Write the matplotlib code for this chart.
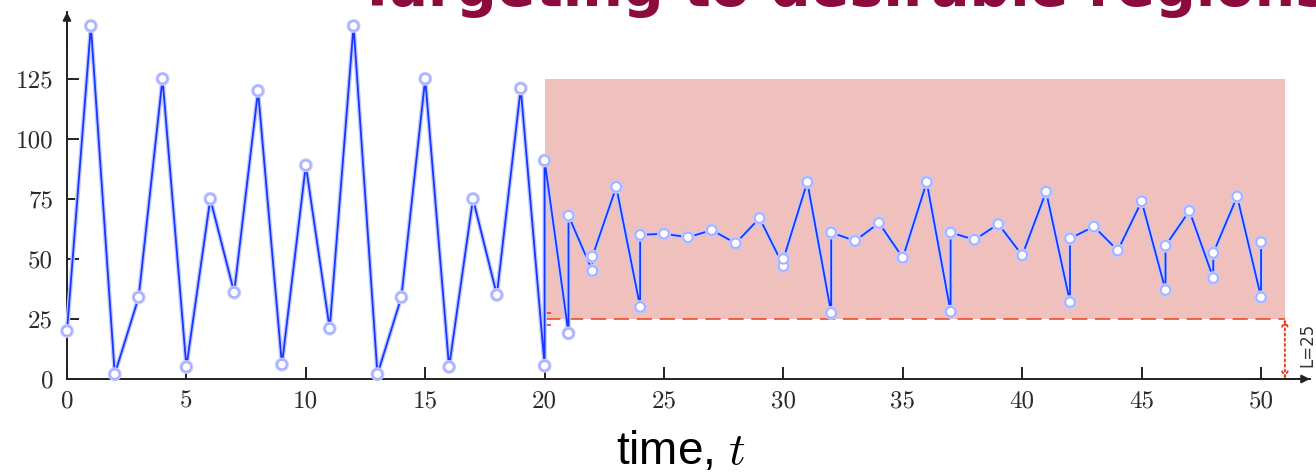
import matplotlib
matplotlib.use("Agg")
import matplotlib.pyplot as plt
import matplotlib.patheffects as pe

# ---------------------------------------------------------------------------
# Data
# ---------------------------------------------------------------------------
# repeated times are steps where a value was pulled back into the target band
times = [0, 1, 2, 3, 4, 5, 6, 7, 8, 9, 10, 11, 12, 13, 14, 15, 16, 17, 18, 19,
         20, 20, 21, 21, 22, 22, 23, 24, 24, 25, 26, 27, 28, 29, 30, 30, 31,
         32, 32, 33, 34, 35, 36, 37, 37, 38, 39, 40, 41, 42, 42, 43, 44, 45,
         46, 46, 47, 48, 48, 49, 50, 50]
values = [20, 147, 2, 34, 125, 5, 75, 36, 120, 6, 89, 21, 147, 2, 34, 125, 5,
          75, 35, 121,
          5.5, 91, 19, 68, 45, 51, 80, 30, 60, 60.5, 59, 62, 56.5, 67, 47, 50,
          82, 27.5, 61, 57.5, 65, 50.5, 82, 28, 61, 58, 64.5, 51.5, 78, 32,
          58.5, 63.5, 53.5, 74, 37, 55.5, 70, 42, 52.5, 76, 34, 57]

region_start = 20
region_end = 51
lower_bound = 25
upper_bound = 125

xticks = [0, 5, 10, 15, 20, 25, 30, 35, 40, 45, 50]
yticks = [0, 25, 50, 75, 100, 125]

title = "Targeting to desirable regions"
xlabel = "time, $t$"

# ---------------------------------------------------------------------------
# Figure
# ---------------------------------------------------------------------------
plt.rcParams["mathtext.fontset"] = "cm"
plt.rcParams["axes.formatter.use_mathtext"] = True

W, H = 1316, 475
fig = plt.figure(figsize=(W / 100, H / 100), dpi=100)
ax = fig.add_axes([67 / W, 1 - 379 / H, (1310 - 67) / W, (379 - 12) / H])
ax.set_xlim(0, 52.05)
ax.set_ylim(0, 152.8)

red = "#e8401c"
ink = "#222222"

# target region
ax.fill_between([region_start, region_end], lower_bound, upper_bound,
                color="#f0c0bd", lw=0, zorder=0)
ax.hlines(lower_bound, region_start, region_end, colors=red, lw=1.1,
          linestyles=(0, (10, 5)), zorder=1)
ax.hlines([lower_bound + 2.5, lower_bound - 2.5], region_start,
          region_start + 0.25, colors=red, lw=1.2, zorder=1)

# distance to the bound
ax.annotate("", xy=(region_end, lower_bound), xytext=(region_end, 0),
            arrowprops=dict(arrowstyle="<->", ls=":", color=red, lw=1.4,
                            shrinkA=0, shrinkB=0, mutation_scale=10),
            annotation_clip=False)
ax.text(51.95, lower_bound / 2 + 1.5, "L=25", rotation=90, ha="center",
        va="center", fontsize=12, color="#333333")

# series
ax.plot(times, values, color="#1538ff", lw=1.3, marker="o", ms=6.8,
        mfc="white", mec="#a8b0ff", mew=1.4, zorder=3, clip_on=False,
        path_effects=[pe.Stroke(linewidth=3.2, foreground="#c4caff"),
                      pe.Normal()])

# axes styling
for side in ("top", "right"):
    ax.spines[side].set_visible(False)
for side in ("left", "bottom"):
    ax.spines[side].set_color(ink)
    ax.spines[side].set_linewidth(1.4)

ax.set_xticks(xticks)
ax.set_xticklabels([str(v) for v in xticks], fontfamily="cmr10",
                   fontsize=18, color="#2a2a2a")
ax.set_yticks(yticks)
ax.set_yticklabels([str(v) for v in yticks], fontfamily="cmr10",
                   fontsize=18, color="#2a2a2a")
ax.tick_params(axis="both", direction="in", length=8.6, width=1.4,
               color=ink)
ax.tick_params(axis="x", pad=8)
ax.tick_params(axis="y", pad=10)

# axis arrows
ax.annotate("", xy=(0, 1), xytext=(0, 0.9), xycoords="axes fraction",
            arrowprops=dict(arrowstyle="-|>", color=ink, lw=1.4,
                            mutation_scale=12, shrinkA=0, shrinkB=0))
ax.annotate("", xy=(1, 0), xytext=(0.95, 0), xycoords="axes fraction",
            arrowprops=dict(arrowstyle="-|>", color=ink, lw=1.4,
                            mutation_scale=12, shrinkA=0, shrinkB=0))

fig.text(681 / W, 1 - 464 / H, xlabel, ha="center", va="baseline",
         fontsize=33, fontfamily="Liberation Sans", color="black")
# title is cropped by the top edge, as in the source slide
fig.text(358 / W, 1 - 6 / H, title, ha="left", va="baseline",
         fontsize=41, fontweight="bold", fontfamily="DejaVu Sans",
         color="#8c0a3c")

fig.savefig("out.png", dpi=100)
